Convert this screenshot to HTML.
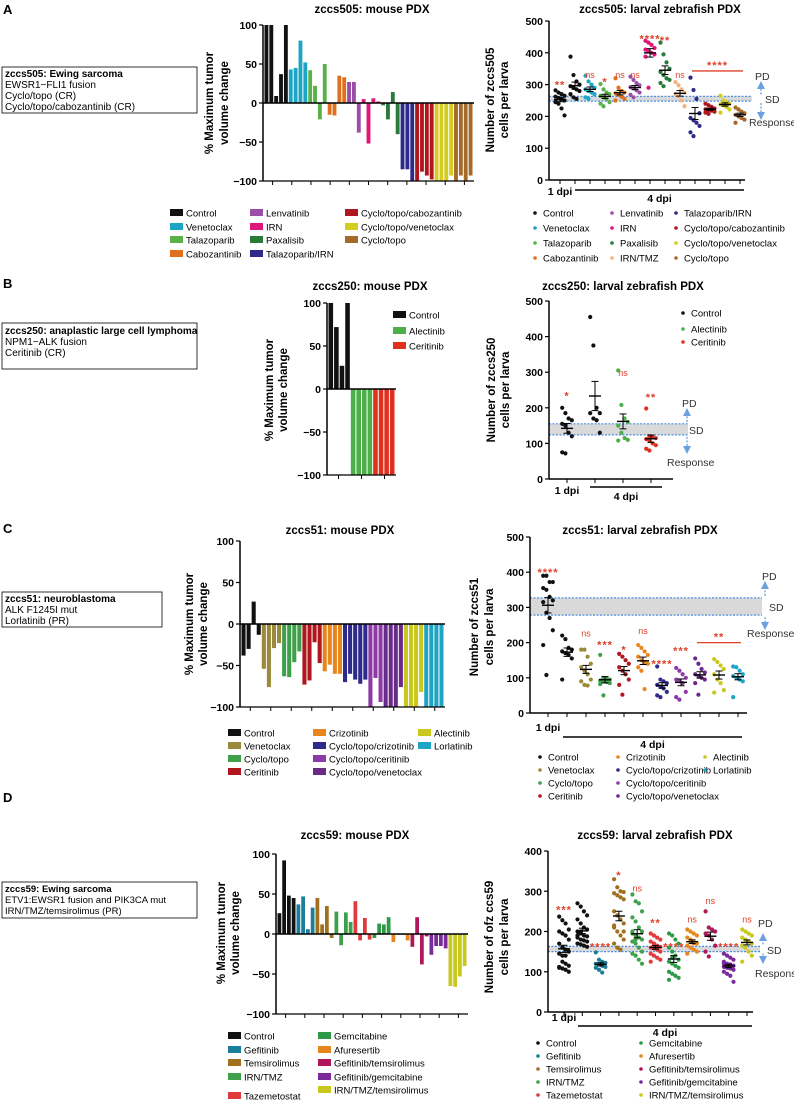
<!DOCTYPE html>
<html><head><meta charset="utf-8"><style>
body{margin:0;background:#fff;}
svg{display:block;font-family:"Liberation Sans",Arial,sans-serif;}
</style></head><body>
<svg id="fig" width="794" height="1110" viewBox="0 0 794 1110" xmlns="http://www.w3.org/2000/svg">
<g font-weight="bold" font-size="13">
<text x="3" y="14">A</text><text x="3" y="288">B</text><text x="3" y="533">C</text><text x="3" y="802">D</text>
</g>
<g font-size="10">
<rect x="2" y="67" width="195" height="46" fill="none" stroke="#000" stroke-width="0.8"/>
<text x="5" y="77" font-weight="bold">zccs505: Ewing sarcoma</text>
<text x="5" y="88">EWSR1−FLI1 fusion</text><text x="5" y="99">Cyclo/topo (CR)</text><text x="5" y="110">Cyclo/topo/cabozantinib (CR)</text>
</g>
<g font-size="10">
<rect x="2" y="323" width="195" height="46" fill="none" stroke="#000" stroke-width="0.8"/>
<text x="5" y="334" font-weight="bold">zccs250: anaplastic large cell lymphoma</text>
<text x="5" y="345">NPM1−ALK fusion</text><text x="5" y="356">Ceritinib (CR)</text>
</g>
<g font-size="10">
<rect x="2" y="592" width="160" height="35" fill="none" stroke="#000" stroke-width="0.8"/>
<text x="5" y="602" font-weight="bold">zccs51: neuroblastoma</text>
<text x="5" y="613">ALK F1245I mut</text><text x="5" y="624">Lorlatinib (PR)</text>
</g>
<g font-size="9.5">
<rect x="2" y="882" width="195" height="36" fill="none" stroke="#000" stroke-width="0.8"/>
<text x="5" y="892" font-weight="bold">zccs59: Ewing sarcoma</text>
<text x="5" y="903">ETV1:EWSR1 fusion and PIK3CA mut</text><text x="5" y="914">IRN/TMZ/temsirolimus (PR)</text>
</g>
</svg>
<script>
// ===== DATA =====
const wfA_groups=["Control","Venetoclax","Talazoparib","Cabozantinib","Lenvatinib","IRN","Paxalisib","Talazoparib/IRN","Cyclo/topo/cabozantinib","Cyclo/topo/venetoclax","Cyclo/topo"];
const wfA_values=[[100,100,9,37,100],[43,45,80,52],[42,22,-21,50],[-15,-16,35,33],[27,27,-38],[5,-52,6,2],[-3,-21,14,-40],[-85,-85,-100],[-100,-88,-93,-98],[-100,-100,-100,-93],[-100,-93,-100,-93]];
const wfB_groups=["Control","Alectinib","Ceritinib"];
const wfB_values=[[100,72,27,100],[-100,-100,-100,-100],[-100,-100,-100,-100]];
const wfC_groups=["Control","Venetoclax","Cyclo/topo","Ceritinib","Crizotinib","Cyclo/topo/crizotinib","Cyclo/topo/ceritinib","Cyclo/topo/venetoclax","Alectinib","Lorlatinib"];
const wfC_values=[[-38,-30,27,-13],[-54,-76,-29,-23],[-63,-64,-46,-33],[-73,-68,-22,-47],[-57,-49,-60,-60],[-70,-60,-67,-72,-67],[-100,-65,-94],[-100,-100,-100,-76],[-100,-100,-100,-82],[-100,-100,-100,-100]];
const wfD_groups=["Control","Gefitinib","Temsirolimus","IRN/TMZ","Tazemetostat","Gemcitabine","Afuresertib","Gefitinib/temsirolimus","Gefitinib/gemcitabine","IRN/TMZ/temsirolimus"];
const wfD_values=[[26,92,48,45],[37,47,6,33],[45,12,35,-5],[28,-14,27,15],[41,-8,20,-7],[-5,13,12,21],[-10,-1,-1,-8],[-16,21,-38,-3],[-26,-15,-15,-18],[-65,-66,-53,-40]];

const scA_groups=["Control","Control","Venetoclax","Talazoparib","Cabozantinib","Lenvatinib","IRN","Paxalisib","IRN/TMZ","Talazoparib/IRN","Cyclo/topo/cabozantinib","Cyclo/topo/venetoclax","Cyclo/topo"];
const scA_values=[[282,275,270,265,262,258,255,250,245,240,225,203],[388,330,310,300,295,290,285,280,270,260,255],[328,310,300,290,285,280,275,270,260,255],[302,285,275,270,265,260,255,245,240,232],[320,290,280,275,272,268,262,255,250],[325,315,305,298,292,288,282,275,268,260],[438,432,425,415,410,405,400,395,388,290],[432,395,370,350,340,330,320,315,305,295],[308,298,285,275,270,262,250,232],[322,283,255,210,195,188,180,170,150,138],[240,235,230,225,222,220,218,215,212,208],[265,250,245,240,238,235,230,222,212],[228,222,215,210,205,200,195,190,180]];
const scA_sig=["**","","ns","*","ns","ns","****","**","ns","","","",""];
const scA_sigY=[300,0,320,310,320,320,445,440,320,0,0,0,0];
const scA_bracket={from:9,to:12,value:343,label:"****"};
const scA_sd=[248,263];

const scB_groups=["Control","Control","Alectinib","Ceritinib"];
const scB_values=[[200,185,170,165,155,150,130,120,75,72],[455,375,200,185,185,170,165,130],[305,208,170,160,150,130,115,110,108],[198,120,118,115,112,108,100,95,85,80]];
const scB_sig=["*","","ns","**"];
const scB_sigY=[235,0,290,230];
const scB_sd=[124,155];

const scC_groups=["Control","Control","Venetoclax","Cyclo/topo","Ceritinib","Crizotinib","Cyclo/topo/crizotinib","Cyclo/topo/ceritinib","Cyclo/topo/venetoclax","Alectinib","Lorlatinib"];
const scC_values=[[390,390,372,372,355,350,330,320,315,285,270,235,193,108],[220,210,185,180,175,170,165,155,95],[180,180,160,140,130,120,110,95,90,80,78],[165,100,98,95,92,90,88,85,82,50],[168,160,150,140,130,120,110,95,80,52],[193,185,175,165,160,150,145,140,130,120,68],[132,95,90,85,80,75,70,60,50,45],[128,120,110,100,95,90,85,60,45,38],[155,140,125,115,110,105,100,95,85,52],[153,145,135,125,110,95,85,65,58],[132,130,120,110,105,100,95,90,45]];
const scC_sig=["****","","ns","***","*","ns","****","***","","",""];
const scC_sigY=[400,0,218,195,180,225,140,178,0,0,0];
const scC_bracket={from:8,to:10,value:200,label:"**"};
const scC_sd=[278,327];

const scD_groups=["Control","Control","Gefitinib","Temsirolimus","IRN/TMZ","Tazemetostat","Gemcitabine","Afuresertib","Gefitinib/temsirolimus","Gefitinib/gemcitabine","IRN/TMZ/temsirolimus"];
const scD_values=[[237,228,220,205,200,195,190,180,170,160,155,150,145,140,120,115,110,108,105,100,112,125,140],[270,262,250,240,230,220,210,205,200,195,190,188,185,180,178,175,170,168,165,162,190,200],[148,130,125,122,120,118,115,112,110,105,98],[330,310,300,298,295,290,285,280,250,240,230,220,210,200,190,180,170,160,155,200,215],[292,275,270,250,235,225,210,200,195,190,185,180,175,170,160,150,145,140,130,120,200,180],[195,190,185,180,175,170,165,162,160,158,155,150,145,140,135,130,125,170,160],[195,190,180,170,160,150,140,130,125,120,115,110,100,95,90,85,80,135],[205,200,195,190,185,180,175,170,165,160,155,150,145,175,170],[250,210,205,200,195,190,180,165,150,138],[145,140,135,130,125,120,118,115,112,110,108,105,100,95,90,75,120,115],[205,200,195,190,185,180,175,170,165,160,150,140,125,180]];
const scD_sig=["***","","****","*","ns","**","****","ns","ns","****","ns"];
const scD_sigY=[255,0,163,340,300,222,163,222,268,163,222];
const scD_sd=[150,163];

// ===== COLORS =====
const COL={"Control":"#111","Venetoclax":"#1fa5c4","Talazoparib":"#5ab14a","Cabozantinib":"#e0701e","Lenvatinib":"#9b4ea8","IRN":"#e0157a","Paxalisib":"#2a7a3a","Talazoparib/IRN":"#2e2a8a","Cyclo/topo/cabozantinib":"#b0161e","Cyclo/topo/venetoclax":"#d4cc1e","Cyclo/topo":"#a56a2a","IRN/TMZ":"#f2b37a","Alectinib":"#4caf47","Ceritinib":"#e0301e"};
const COLC=Object.assign({},COL,{"Venetoclax":"#9a8a3a","Cyclo/topo":"#3ea04a","Ceritinib":"#b0161e","Crizotinib":"#e8861e","Cyclo/topo/crizotinib":"#2e2a8a","Cyclo/topo/ceritinib":"#8e3aa6","Cyclo/topo/venetoclax":"#6a2a8a","Alectinib":"#c8c81e","Lorlatinib":"#1fa5c4"});
const COLD={"Control":"#111","Gefitinib":"#1a7f9a","Temsirolimus":"#a0701e","IRN/TMZ":"#3ea04a","Tazemetostat":"#e03a3a","Gemcitabine":"#2e9a48","Afuresertib":"#e8861e","Gefitinib/temsirolimus":"#b0165a","Gefitinib/gemcitabine":"#7a2a9a","IRN/TMZ/temsirolimus":"#c8c81e"};

const NS="http://www.w3.org/2000/svg";
const svg=document.getElementById("fig");
function mk(tag,attrs,parent){const e=document.createElementNS(NS,tag);for(const k in attrs)e.setAttribute(k,attrs[k]);(parent||svg).appendChild(e);return e;}
function tx(str,x,y,attrs,parent){const e=mk("text",Object.assign({x:x,y:y},attrs||{}),parent);e.textContent=str;return e;}

function waterfall(name,cfg,groups,values,colors){
  const g=mk("g",{});
  
  
  const yS=v=>cfg.y0-v*(cfg.y0-cfg.y100)/100;
  tx(cfg.title,cfg.titleX,cfg.titleY,{"font-size":"11.5","font-weight":"bold","text-anchor":"middle"},g);
  const yl=mk("text",{transform:`translate(${cfg.labX[0]},${cfg.labY}) rotate(-90)`,"font-size":"11.5","font-weight":"bold","text-anchor":"middle"},g);
  yl.textContent="% Maximum tumor";
  const yl2=mk("text",{transform:`translate(${cfg.labX[1]},${cfg.labY}) rotate(-90)`,"font-size":"11.5","font-weight":"bold","text-anchor":"middle"},g);
  yl2.textContent="volume change";
  
  
  const bars=[];groups.forEach((gn,i)=>values[i].forEach(v=>bars.push([gn,v])));
  const slot=(cfg.right-cfg.ax-2)/bars.length;
  bars.forEach((b,i)=>{
    const y=yS(Math.max(0,b[1])),h=Math.abs(yS(b[1])-yS(0));
    const r=mk("rect",{x:cfg.ax+1.5+i*slot,y:y,width:Math.max(1,slot-1),height:h,fill:colors[b[0]]},g);
    
    
  });
  mk("line",{x1:cfg.ax,y1:yS(100),x2:cfg.ax,y2:yS(-100),stroke:"#000","stroke-width":1.5},g);
  mk("line",{x1:cfg.ax,y1:yS(0),x2:cfg.right,y2:yS(0),stroke:"#000","stroke-width":1.5},g);
  mk("line",{x1:cfg.ax,y1:yS(-100),x2:cfg.right,y2:yS(-100),stroke:"#000","stroke-width":1.2},g);
  [100,50,0,-50,-100].forEach(t=>{
    mk("line",{x1:cfg.ax-4,y1:yS(t),x2:cfg.ax,y2:yS(t),stroke:"#000","stroke-width":1.2},g);
    tx(t<0?"−"+(-t):String(t),cfg.ax-6,yS(t)+4,{"font-size":"10.5","font-weight":"bold","text-anchor":"end"},g);
  });
  const nt=cfg.nt;for(let k=0;k<nt;k++){const x=cfg.ax+((k+0.5)/nt)*(cfg.right-cfg.ax);mk("line",{x1:x,y1:yS(-100),x2:x,y2:yS(-100)+4,stroke:"#000","stroke-width":1},g);}
  cfg.legend.forEach(L=>{
    const lg=mk("g",{},g);
    
    
    mk("rect",{x:L[1],y:L[2]-4,width:13,height:7,fill:colors[L[0]]},lg);
    tx(L[0],L[1]+16,L[2]+3.5,{"font-size":"9.5"},lg);
  });
}

function scatter(name,cfg,groups,values,sig,sigY,bracket,sd,colors){
  const g=mk("g",{});
  
  
  const yS=v=>cfg.y0-v*(cfg.y0-cfg.ytop)/cfg.ymax;
  const xS=i=>cfg.gx0+i*cfg.dx;
  tx(cfg.title,cfg.titleX,cfg.titleY,{"font-size":"11.5","font-weight":"bold","text-anchor":"middle"},g);
  cfg.ylab.forEach((s,k)=>{const e=mk("text",{transform:`translate(${cfg.labX[k]},${cfg.labY}) rotate(-90)`,"font-size":"11.5","font-weight":"bold","text-anchor":"middle"},g);e.textContent=s;});
  const band=mk("rect",{x:cfg.ax,y:yS(sd[1]),width:cfg.bandEnd-cfg.ax,height:yS(sd[0])-yS(sd[1]),fill:"#d9d9d9"},g);
  
  
  [sd[0],sd[1]].forEach(v=>mk("line",{x1:cfg.ax,y1:yS(v),x2:cfg.bandEnd,y2:yS(v),stroke:"#4a8ee0","stroke-width":1.2,"stroke-dasharray":"2,1.5"},g));
  const ax=cfg.arrowX;
  mk("line",{x1:ax,y1:yS(sd[1])-2,x2:ax,y2:cfg.pdY,stroke:"#6aa0e0","stroke-width":1.3,"stroke-dasharray":"2,1.5"},g);
  mk("polygon",{points:`${ax-4},${cfg.pdY+6} ${ax+4},${cfg.pdY+6} ${ax},${cfg.pdY-2}`,fill:"#6aa0e0"},g);
  mk("line",{x1:ax,y1:yS(sd[0])+2,x2:ax,y2:cfg.rsY,stroke:"#6aa0e0","stroke-width":1.3,"stroke-dasharray":"2,1.5"},g);
  mk("polygon",{points:`${ax-4},${cfg.rsY-6} ${ax+4},${cfg.rsY-6} ${ax},${cfg.rsY+2}`,fill:"#6aa0e0"},g);
  tx("PD",cfg.pd[0],cfg.pd[1],{"font-size":"10.5","fill":"#333"},g);
  tx("SD",cfg.sdl[0],cfg.sdl[1],{"font-size":"10.5","fill":"#333"},g);
  tx("Response",cfg.rs[0],cfg.rs[1],{"font-size":"10.5","fill":"#333"},g);
  mk("line",{x1:cfg.ax,y1:cfg.ytop,x2:cfg.ax,y2:cfg.y0,stroke:"#000","stroke-width":1.5},g);
  mk("line",{x1:cfg.ax,y1:cfg.y0,x2:cfg.xend,y2:cfg.y0,stroke:"#000","stroke-width":1.5},g);
  for(let t=0;t<=cfg.ymax;t+=100){
    mk("line",{x1:cfg.ax-4,y1:yS(t),x2:cfg.ax,y2:yS(t),stroke:"#000","stroke-width":1.2},g);
    tx(String(t),cfg.ax-6,yS(t)+4,{"font-size":"10.5","font-weight":"bold","text-anchor":"end"},g);
  }
  groups.forEach((gn,i)=>mk("line",{x1:xS(i),y1:cfg.y0,x2:xS(i),y2:cfg.y0+4,stroke:"#000","stroke-width":1},g));
  tx("1 dpi",xS(0),cfg.dpi1Y,{"font-size":"10.5","font-weight":"bold","text-anchor":"middle"},g);
  mk("line",{x1:cfg.dpiLine[0],y1:cfg.dpiLine[2],x2:cfg.dpiLine[1],y2:cfg.dpiLine[2],stroke:"#000","stroke-width":1.5},g);
  tx("4 dpi",(cfg.dpiLine[0]+cfg.dpiLine[1])/2,cfg.dpi4Y,{"font-size":"10.5","font-weight":"bold","text-anchor":"middle"},g);
  groups.forEach((gn,i)=>{
    const vals=values[i];const c=colors[gn];
    const pg=mk("g",{},g);
    
    
    vals.forEach((v,k)=>{
      const off=((k%4)-1.5)*cfg.jit;
      const p=mk("circle",{cx:xS(i)+off,cy:yS(v),r:2.1,fill:c},pg);
      
      
    });
    const n=vals.length,m=vals.reduce((a,b)=>a+b,0)/n;
    const sem=Math.sqrt(vals.reduce((a,b)=>a+(b-m)*(b-m),0)/(n-1))/Math.sqrt(n);
    mk("line",{x1:xS(i)-6,y1:yS(m),x2:xS(i)+6,y2:yS(m),stroke:"#000","stroke-width":1.4},pg);
    mk("line",{x1:xS(i),y1:yS(m-sem),x2:xS(i),y2:yS(m+sem),stroke:"#000","stroke-width":1},pg);
    mk("line",{x1:xS(i)-3.5,y1:yS(m+sem),x2:xS(i)+3.5,y2:yS(m+sem),stroke:"#000","stroke-width":1},pg);
    mk("line",{x1:xS(i)-3.5,y1:yS(m-sem),x2:xS(i)+3.5,y2:yS(m-sem),stroke:"#000","stroke-width":1},pg);
    if(sig[i]){const isNs=sig[i]=="ns";tx(sig[i],xS(i),yS(sigY[i])+(isNs?0:4),{"font-size":isNs?"9":"11","font-weight":isNs?"normal":"bold","fill":"#e0402a","text-anchor":"middle","letter-spacing":isNs?"0":"1"},g);}
  });
  if(bracket){
    mk("line",{x1:xS(bracket.from)-3,y1:yS(bracket.value),x2:xS(bracket.to)+3,y2:yS(bracket.value),stroke:"#e0402a","stroke-width":1.3},g);
    tx(bracket.label,(xS(bracket.from)+xS(bracket.to))/2,yS(bracket.value)-2,{"font-size":"11","font-weight":"bold","fill":"#e0402a","text-anchor":"middle","letter-spacing":"1"},g);
  }
  cfg.legend.forEach(L=>{
    const lg=mk("g",{},g);
    
    
    mk("circle",{cx:L[1],cy:L[2],r:1.8,fill:colors[L[0]]},lg);
    tx(L[0],L[1]+8,L[2]+3.5,{"font-size":"9.5"},lg);
  });
}

// ===== PANEL A =====
waterfall("waterfall-a",{ax:263,right:474,y100:25,y0:103,titleX:372,titleY:13,title:"zccs505: mouse PDX",labX:[213,228],labY:103,nt:11,
 legend:[["Control",170,213],["Venetoclax",170,227],["Talazoparib",170,240],["Cabozantinib",170,254],["Lenvatinib",250,213],["IRN",250,227],["Paxalisib",250,240],["Talazoparib/IRN",250,254],["Cyclo/topo/cabozantinib",345,213],["Cyclo/topo/venetoclax",345,227],["Cyclo/topo",345,240]]},
 wfA_groups,wfA_values,COL);
scatter("zebrafish-a",{ax:549,ytop:21,y0:180,ymax:500,gx0:560,dx:15,xend:745,bandEnd:752,jit:3,arrowX:761,pdY:83,rsY:118,pd:[755,80],sdl:[765,103],rs:[749,126],
 title:"zccs505: larval zebrafish PDX",titleX:660,titleY:13,ylab:["Number of zccs505","cells per larva"],labX:[494,508],labY:100,dpi1Y:195,dpiLine:[575,744,190],dpi4Y:202,
 legend:[["Control",535,213],["Venetoclax",535,228],["Talazoparib",535,243],["Cabozantinib",535,258],["Lenvatinib",612,213],["IRN",612,228],["Paxalisib",612,243],["IRN/TMZ",612,258],["Talazoparib/IRN",676,213],["Cyclo/topo/cabozantinib",676,228],["Cyclo/topo/venetoclax",676,243],["Cyclo/topo",676,258]]},
 scA_groups,scA_values,scA_sig,scA_sigY,scA_bracket,scA_sd,COL);

// ===== PANEL B =====
waterfall("waterfall-b",{ax:327,right:396,y100:303,y0:389,titleX:370,titleY:290,title:"zccs250: mouse PDX",labX:[273,287],labY:390,nt:3,
 legend:[["Control",393,315],["Alectinib",393,331],["Ceritinib",393,346]]},wfB_groups,wfB_values,COL);
scatter("zebrafish-b",{ax:549,ytop:301,y0:479,ymax:500,gx0:567,dx:28,xend:673,bandEnd:688,jit:3.2,arrowX:687,pdY:410,rsY:452,pd:[682,407],sdl:[689,434],rs:[667,466],
 title:"zccs250: larval zebrafish PDX",titleX:623,titleY:290,ylab:["Number of zccs250","cells per larva"],labX:[495,509],labY:390,dpi1Y:494,dpiLine:[590,662,487],dpi4Y:500,
 legend:[["Control",683,313],["Alectinib",683,329],["Ceritinib",683,342]]},
 scB_groups,scB_values,scB_sig,scB_sigY,null,scB_sd,COL);

// ===== PANEL C =====
waterfall("waterfall-c",{ax:240,right:445,y100:541,y0:624,titleX:340,titleY:534,title:"zccs51: mouse PDX",labX:[193,207],labY:624,nt:10,
 legend:[["Control",228,733],["Venetoclax",228,746],["Cyclo/topo",228,759],["Ceritinib",228,772],["Crizotinib",313,733],["Cyclo/topo/crizotinib",313,746],["Cyclo/topo/ceritinib",313,759],["Cyclo/topo/venetoclax",313,772],["Alectinib",418,733],["Lorlatinib",418,746]]},
 wfC_groups,wfC_values,COLC);
scatter("zebrafish-c",{ax:530,ytop:537,y0:713,ymax:500,gx0:548,dx:19,xend:747,bandEnd:762,jit:3.2,arrowX:765,pdY:583,rsY:628,pd:[762,580],sdl:[769,611],rs:[747,637],
 title:"zccs51: larval zebrafish PDX",titleX:640,titleY:534,ylab:["Number of zccs51","cells per larva"],labX:[478,493],labY:627,dpi1Y:731,dpiLine:[563,742,737],dpi4Y:748,
 legend:[["Control",540,757],["Venetoclax",540,770],["Cyclo/topo",540,783],["Ceritinib",540,796],["Crizotinib",618,757],["Cyclo/topo/crizotinib",618,770],["Cyclo/topo/ceritinib",618,783],["Cyclo/topo/venetoclax",618,796],["Alectinib",705,757],["Lorlatinib",705,770]]},
 scC_groups,scC_values,scC_sig,scC_sigY,scC_bracket,scC_sd,COLC);

// ===== PANEL D =====
waterfall("waterfall-d",{ax:276,right:468,y100:854,y0:934,titleX:355,titleY:839,title:"zccs59: mouse PDX",labX:[225,239],labY:933,nt:10,
 legend:[["Control",228,1036],["Gefitinib",228,1050],["Temsirolimus",228,1063],["IRN/TMZ",228,1077],["Tazemetostat",228,1096],["Gemcitabine",318,1036],["Afuresertib",318,1050],["Gefitinib/temsirolimus",318,1063],["Gefitinib/gemcitabine",318,1077],["IRN/TMZ/temsirolimus",318,1090]]},
 wfD_groups,wfD_values,COLD);
scatter("zebrafish-d",{ax:548,ytop:851,y0:1012,ymax:400,gx0:564,dx:18.3,xend:753,bandEnd:760,jit:3.2,arrowX:763,pdY:935,rsY:962,pd:[758,927],sdl:[767,954],rs:[755,977],
 title:"zccs59: larval zebrafish PDX",titleX:655,titleY:839,ylab:["Number of ofz ccs59","cells per larva"],labX:[493,508],labY:937,dpi1Y:1021,dpiLine:[578,752,1026],dpi4Y:1036,
 legend:[["Control",538,1043],["Gefitinib",538,1056],["Temsirolimus",538,1069],["IRN/TMZ",538,1082],["Tazemetostat",538,1095],["Gemcitabine",641,1043],["Afuresertib",641,1056],["Gefitinib/temsirolimus",641,1069],["Gefitinib/gemcitabine",641,1082],["IRN/TMZ/temsirolimus",641,1095]]},
 scD_groups,scD_values,scD_sig,scD_sigY,null,scD_sd,COLD);
</script>
</body></html>
